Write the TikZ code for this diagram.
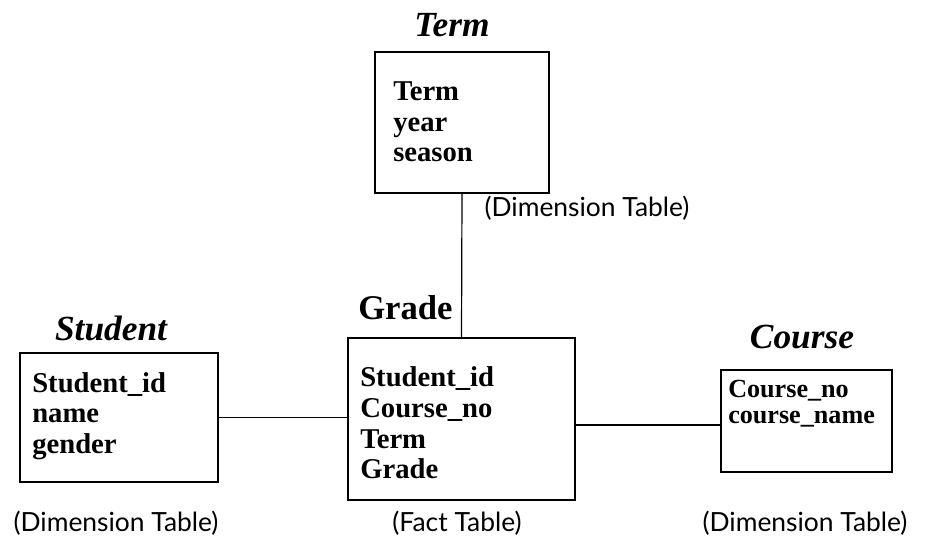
\documentclass[tikz,border=0pt]{standalone}
\usepackage{fontspec}
\setmainfont{Liberation Serif}
\newfontfamily\labelfont{Lato}
\usetikzlibrary{calc,fit}

\begin{document}
\begin{tikzpicture}[x=0.75pt,y=-0.75pt,
  tablebox/.style={draw,line width=1.3pt,inner sep=0pt},
  fields/.style={anchor=west,align=left,inner sep=0pt,
    font=\fontsize{21.5}{23}\selectfont\bfseries},
  narrowfields/.style={fields,font=\fontsize{19.6}{19.5}\selectfont\bfseries},
  dimtitle/.style={font=\fontsize{26.5}{28}\selectfont\bfseries\itshape,inner sep=0pt},
  facttitle/.style={font=\fontsize{26}{28}\selectfont\bfseries,inner sep=0pt},
  kind/.style={font=\labelfont\fontsize{19.8}{21}\selectfont,inner sep=0pt},
  link/.style={line width=0.9pt}]

\useasboundingbox (0,0) rectangle (925,541);

% table boxes
\node[tablebox,fit={(375,52) (549,193)}] (term) {};
\node[tablebox,fit={(20,353) (218,482)}] (student) {};
\node[tablebox,fit={(348,338) (575,500)}] (grade) {};
\node[tablebox,fit={(721,370) (892,472)}] (course) {};

% table names
\node[dimtitle] (termname) at (452,25) {Term};
\node[dimtitle] (studentname) at (111,328) {Student};
\node[facttitle,anchor=west] (gradename) at (358,308) {Grade};
\node[dimtitle] (coursename) at (802,337) {Course};

% attributes
\node[fields] (termfields) at (393,122) {Term\\year\\season};
\node[fields] (studentfields) at (32,416) {Student\_id\\name\\gender};
\node[fields] (gradefields) at (360,423) {Student\_id\\Course\_no\\Term\\Grade};
\node[narrowfields] (coursefields) at (728,404) {Course\_no\\course\_name};

% table kinds
\node[kind] (termkind) at (587,208) {(Dimension Table)};
\node[kind] (studentkind) at (116,523) {(Dimension Table)};
\node[kind] (gradekind) at (457,523) {(Fact Table)};
\node[kind] (coursekind) at (805,523) {(Dimension Table)};

% connectors
\coordinate (courselink) at ($(course.west)+(0,4)$);
\draw[link] (term.south) -- (grade.north);
\draw[link] (student.east) -- (student.east -| grade.west);
\draw[link] (courselink) -- (courselink -| grade.east);
\end{tikzpicture}
\end{document}
